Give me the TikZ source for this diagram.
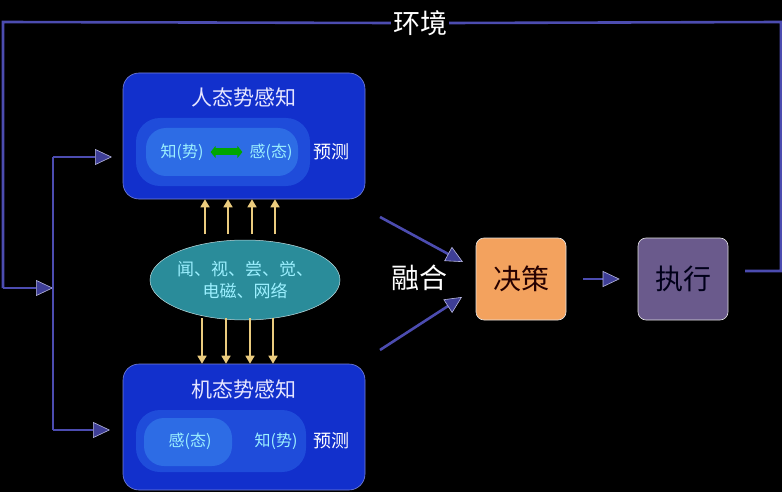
\documentclass[tikz,border=0pt]{standalone}
\usepackage{fontspec}
\setmainfont{Noto Sans CJK SC}
\usetikzlibrary{arrows.meta,shapes.geometric,shapes.arrows,calc}
\definecolor{linec}{HTML}{4C4CB0}
\definecolor{lineedge}{HTML}{B8B8E0}
\definecolor{tipc}{HTML}{3E3E96}
\definecolor{boxblue}{HTML}{1230CC}
\definecolor{boxglow}{HTML}{2A64E6}
\definecolor{boxglow2}{HTML}{3C8CF0}
\definecolor{cyantext}{HTML}{9CF0FF}
\definecolor{ellfill}{HTML}{2A8C9A}
\definecolor{yarr}{HTML}{EACB7E}
\definecolor{decfill}{HTML}{F3A25E}
\definecolor{exefill}{HTML}{6A5A8C}
\tikzset{
  conn/.style={draw=linec, line width=2.6pt,
    -{Triangle[length=17pt,width=16pt,color=lineedge,fill=tipc,line width=0.6pt]}},
  plain/.style={draw=linec, line width=2.6pt},
  bigbox/.style={draw=lineedge!60!boxblue, line width=0.6pt, fill=boxblue,
    rounded corners=16pt, minimum width=242pt, minimum height=126pt},
  glow/.style={fill=boxglow, rounded corners=24pt, fill opacity=0.55},
  glowin/.style={fill=boxglow2, rounded corners=20pt, fill opacity=0.5},
  ttl/.style={text=white!90!blue, font=\fontsize{21}{24}\selectfont},
  inner/.style={text=cyantext, font=\fontsize{16}{18}\selectfont, inner sep=0pt},
  pred/.style={text=white, font=\fontsize{18}{20}\selectfont, inner sep=0pt},
  yarrow/.style={draw=yarr, line width=1.6pt,
    -{Triangle[length=8pt,width=9pt,fill=yarr]}},
  garrow/.style={draw=green!65!black, line width=7pt,
    {Triangle[length=5pt,width=12pt]}-{Triangle[length=5pt,width=12pt]}},
  action/.style={rounded corners=8pt, draw=white!80!gray, line width=0.6pt,
    minimum width=90pt, minimum height=82pt, font=\fontsize{28}{32}\selectfont},
}
\begin{document}
\begin{tikzpicture}[x=1pt,y=-1pt]
\fill[black] (0,0) rectangle (782,492);
\useasboundingbox (0,0) rectangle (782,492);

% human situation awareness box
\node[bigbox] (hum) at (244,136) {};
\fill[glow] (136,118) rectangle (310,186);
\fill[glowin] (146,128) rectangle (298,176);
\node[ttl] (humt) at (244,97) {人态势感知};
\node[inner] (hz) at (182,152) {知(势)};
\node[inner] (hg) at (271,152) {感(态)};
\draw[garrow, shorten <=7pt, shorten >=7pt] (hz.east) -- (hg.west);
\node[pred] (hp) at (331,152) {预测};

% machine situation awareness box
\node[bigbox] (mac) at (244,427) {};
\fill[glow] (136,410) rectangle (306,472);
\fill[glowin] (144,418) rectangle (232,466);
\node[ttl] (mact) at (244,389) {机态势感知};
\node[inner] (mg) at (190,441) {感(态)};
\node[inner] (mz) at (276,441) {知(势)};
\node[pred] (mp) at (331,441) {预测};

% ellipse of channels
\node[ellipse, fill=ellfill, draw=white!70!ellfill, line width=0.5pt,
  minimum width=190pt, minimum height=80pt, inner sep=-6pt,
  text=cyantext, align=center, font=\fontsize{17}{22}\selectfont] (ell) at (245,280)
  {闻、视、尝、觉、\\电磁、网络};

% yellow arrows
\foreach \x in {205,228,252,275}
  \draw[yarrow] (\x,234) -- (\x,0 |- hum.south);
\foreach \x in {202,226,250,273}
  \draw[yarrow] (\x,318) -- (\x,0 |- mac.north);

% decision and execution
\node[action, fill=decfill, text=black!85!red] (dec) at (521,279) {决策};
\node[action, fill=exefill, text=black!90!blue] (exe) at (683,279) {执行};
\node[text=white, font=\fontsize{28}{32}\selectfont] (fuse) at (419,278) {融合};

\coordinate (f1) at (380,217);
\coordinate (f2) at (380,350);
\draw[conn] (f1) -- (463,262);
\draw[conn] (f2) -- (462,297);
\draw[conn, shorten <=17pt, shorten >=18pt] (dec.east) -- (exe.west);

% environment loop
\node[text=white, font=\fontsize{27}{30}\selectfont, inner sep=2pt] (env) at (420,23) {环境};
\coordinate (rc) at (745,271);
\draw[plain] (rc) -- (781,271) -- (781,22) -- (env.east);
\draw[plain] (env.west) -- (3,22) -- (3,288);
\coordinate (jn) at (53,288);
\draw[conn] (3,288) -- (jn);
\draw[plain] (53,157) -- (53,430);
\draw[conn] (53,157) -- (112,157);
\draw[conn] (53,430) -- (110,430);
\end{tikzpicture}
\end{document}
